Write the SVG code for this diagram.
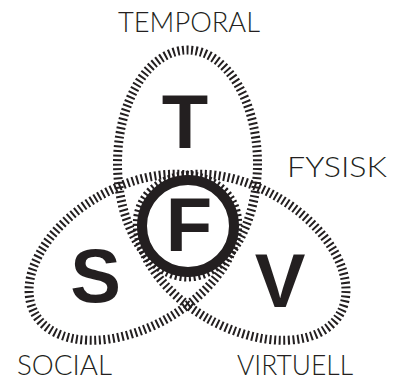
<svg xmlns="http://www.w3.org/2000/svg" width="394" height="381" viewBox="0 0 394 381">
<style>
.tick{fill:none;stroke:#231f20;stroke-width:9;stroke-dasharray:2 2.6}
.big{font-family:"Liberation Sans",Arial,sans-serif;font-weight:bold;font-size:76px;fill:#231f20;text-anchor:middle}
.lab{font-family:Lato,"Noto Sans",sans-serif;font-weight:300;font-size:27px;fill:#231f20;text-anchor:middle}
</style>
<rect width="394" height="381" fill="#fff"/>
<g id="connectors"></g>
<g id="node-T">
<ellipse class="tick" cx="187.5" cy="163.5" rx="70" ry="113.5"/>
<text class="big" x="185" y="148">T</text>
</g>
<g id="node-V">
<ellipse class="tick" cx="187.5" cy="163.5" rx="70" ry="113.5" transform="rotate(120 187.5 226)"/>
<text class="big" x="280" y="307">V</text>
</g>
<g id="node-S">
<ellipse class="tick" cx="187.5" cy="163.5" rx="70" ry="113.5" transform="rotate(240 187.5 226)"/>
<text class="big" x="95.5" y="302">S</text>
</g>
<g id="node-F">
<circle cx="188" cy="226" r="46" fill="#fff" stroke="#231f20" stroke-width="10"/>
<text class="big" x="189" y="251">F</text>
</g>
<g id="labels">
<text id="label-temporal" class="lab" x="189" y="32" textLength="142" lengthAdjust="spacingAndGlyphs">TEMPORAL</text>
<text id="label-fysisk" class="lab" x="337" y="177" textLength="100" lengthAdjust="spacingAndGlyphs">FYSISK</text>
<text id="label-social" class="lab" x="64.5" y="375" textLength="95" lengthAdjust="spacingAndGlyphs">SOCIAL</text>
<text id="label-virtuell" class="lab" x="295" y="375" textLength="116" lengthAdjust="spacingAndGlyphs">VIRTUELL</text>
</g>
</svg>
